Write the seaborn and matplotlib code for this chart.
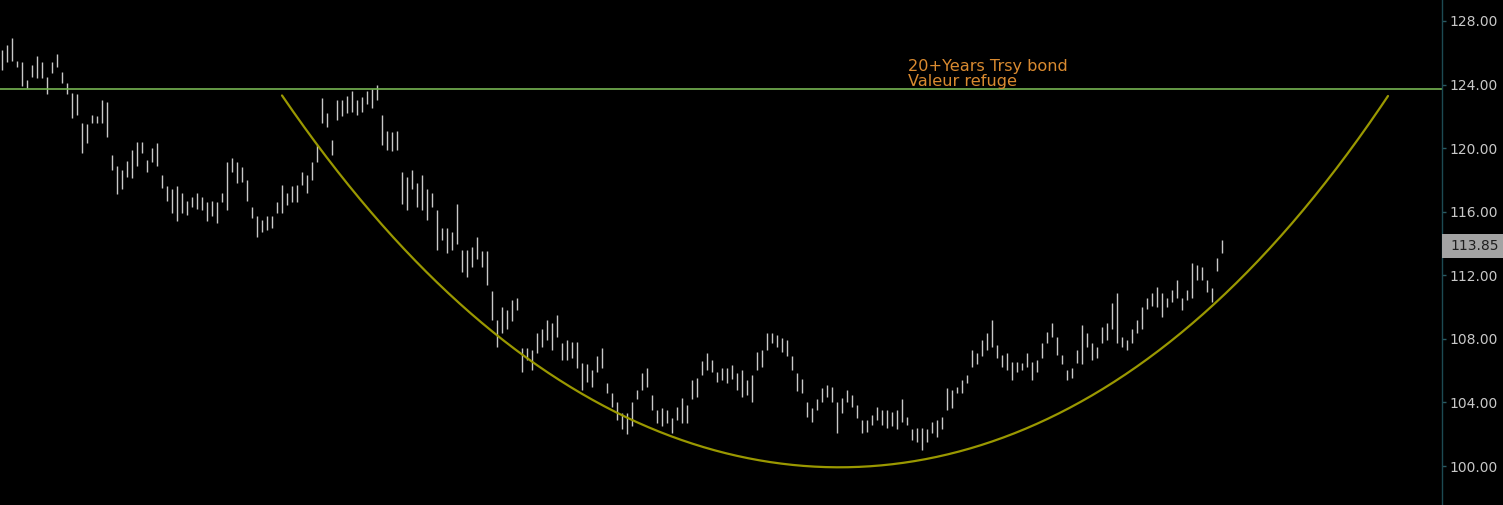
import numpy as np
import pandas as pd
import seaborn as sns
import matplotlib.pyplot as plt
from matplotlib.patches import Rectangle

# daily bars (high / low)
hi = [126.2, 126.5, 126.9, 125.5, 125.4, 124.3, 125.2, 125.8, 125.4, 124.5,
      125.4, 125.9, 124.8, 124.1, 123.5, 123.4, 121.6, 121.5, 122.1, 122.0,
      123.0, 122.9, 119.6, 118.9, 118.6, 119.2, 119.9, 120.4, 120.4, 119.25,
      120.0, 120.3, 118.3, 117.6, 117.4, 117.6, 117.2, 116.7, 116.9, 117.2,
      116.9, 116.6, 116.7, 116.6, 117.2, 119.1, 119.4, 119.1, 118.8, 118.0,
      116.3, 115.7, 115.5, 115.7, 115.7, 116.6, 117.7, 117.2, 117.6, 117.7,
      118.5, 118.3, 119.1, 120.2, 123.15, 122.2, 120.5, 123.0, 123.0, 123.3,
      123.6, 123.0, 123.2, 123.6, 123.7, 124.0, 122.1, 121.1, 121.0, 121.1,
      118.5, 118.2, 118.6, 117.8, 118.3, 117.4, 117.2, 116.1, 115.0, 115.0,
      114.7, 116.5, 113.6, 113.6, 113.8, 114.4, 113.5, 113.5, 111.0, 109.2,
      110.0, 109.8, 110.45, 110.6, 107.4, 107.4, 107.3, 108.4, 108.6, 109.2,
      109.0, 109.5, 107.75, 107.9, 107.8, 107.8, 106.5, 106.4, 106.05, 106.9,
      107.4, 105.2, 104.6, 104.0, 103.35, 103.35, 104.0, 104.8, 105.85, 106.2,
      104.5, 103.5, 103.65, 103.5, 103.0, 103.7, 104.3, 103.85, 105.4, 105.55,
      106.6, 107.1, 106.7, 105.9, 106.2, 106.2, 106.35, 105.85, 106.05, 105.4,
      105.7, 107.2, 107.3, 108.4, 108.4, 108.25, 108.05, 107.9, 106.9, 105.85,
      105.5, 104.0, 103.65, 104.2, 104.9, 105.1, 105.0, 104.0, 104.3, 104.8,
      104.5, 103.85, 102.9, 102.9, 103.2, 103.7, 103.5, 103.5, 103.4, 103.5,
      104.2, 103.1, 102.3, 102.4, 102.4, 102.3, 102.8, 102.9, 103.1, 104.9,
      104.8, 105.0, 105.4, 105.7, 107.3, 107.1, 107.9, 108.4, 109.2, 107.6,
      107.0, 107.1, 106.55, 106.55, 106.5, 107.1, 106.55, 106.7, 107.75, 108.45,
      109.0, 108.1, 107.0, 106.05, 106.2, 107.3, 108.9, 108.4, 107.75, 107.5,
      108.75, 109.0, 110.25, 110.9, 108.1, 107.9, 108.6, 109.2, 110.0, 110.55,
      110.9, 111.25, 110.9, 110.6, 111.1, 111.7, 110.6, 111.1, 112.8, 112.65,
      112.5, 111.7, 111.2, 113.1, 114.2]
lo = [124.9, 125.4, 125.5, 125.1, 123.9, 123.8, 124.5, 124.4, 124.4, 123.4,
      124.7, 125.1, 124.1, 123.4, 121.9, 122.1, 119.7, 120.3, 121.6, 121.6,
      121.6, 120.7, 118.6, 117.1, 117.4, 118.2, 118.1, 118.9, 119.7, 118.5,
      119.1, 118.9, 117.5, 116.7, 115.9, 115.4, 115.9, 115.8, 116.3, 116.2,
      116.1, 115.4, 115.7, 115.3, 116.6, 116.1, 118.5, 117.8, 117.9, 116.7,
      115.6, 114.4, 114.7, 114.85, 115.0, 115.9, 115.9, 116.4, 116.6, 116.6,
      117.7, 117.2, 118.0, 119.1, 121.6, 121.3, 119.6, 121.8, 122.0, 122.2,
      122.3, 122.1, 122.3, 122.8, 122.5, 123.0, 120.2, 119.9, 119.8, 119.9,
      116.5, 116.1, 117.4, 116.3, 116.1, 115.5, 116.3, 113.6, 114.2, 113.4,
      113.6, 114.0, 112.2, 111.9, 112.5, 113.0, 112.5, 111.4, 109.2, 107.5,
      108.4, 108.6, 109.1, 109.8, 105.9, 106.7, 106.05, 107.1, 107.5, 107.9,
      107.3, 108.1, 106.7, 106.7, 106.8, 106.2, 104.8, 105.3, 105.0, 105.9,
      106.2, 104.6, 103.7, 102.9, 102.3, 102.0, 102.5, 104.2, 104.8, 105.0,
      103.5, 102.7, 102.5, 102.7, 102.1, 102.9, 102.7, 102.7, 104.2, 104.35,
      105.7, 106.05, 105.9, 105.3, 105.4, 105.2, 105.5, 104.8, 104.35, 104.5,
      104.0, 106.05, 106.25, 107.3, 107.75, 107.5, 107.2, 106.9, 106.05, 104.7,
      104.6, 103.1, 102.8, 103.5, 104.0, 104.35, 104.0, 102.1, 103.35, 104.0,
      103.7, 103.0, 102.1, 102.15, 102.6, 102.9, 102.6, 102.4, 102.5, 102.3,
      102.8, 102.6, 101.65, 101.5, 101.0, 101.5, 102.1, 101.8, 102.3, 103.5,
      103.65, 104.6, 104.6, 105.2, 106.25, 106.4, 106.9, 107.3, 107.5, 106.8,
      106.25, 106.05, 105.4, 105.9, 106.05, 106.25, 105.4, 105.9, 106.8, 107.75,
      108.1, 107.0, 106.4, 105.4, 105.55, 106.5, 106.4, 107.5, 106.7, 106.8,
      107.75, 107.9, 108.6, 107.75, 107.5, 107.3, 107.75, 108.4, 108.6, 109.9,
      110.1, 110.0, 109.4, 110.0, 110.3, 110.6, 109.8, 110.45, 110.6, 111.7,
      111.7, 110.95, 110.3, 112.3, 113.4]
last_close = 113.85

# horizontal resistance level and the hand-drawn "cup" arc (bar index, price)
level = 123.72
curve_bar = [56, 63, 69.6, 76.2, 79.6, 89.6, 99.6, 109.6, 119.6, 127.6, 134.2,
             141, 151.6, 159.6, 167.2, 173, 179.6, 186.2, 199.6, 213, 226.2,
             233, 243.6, 249.6, 259.6, 269.6, 277.2]
curve_price = [123.34, 120.13, 117.49, 115.16, 114.03, 110.89, 107.93, 105.85,
               104.15, 102.58, 101.76, 101.0, 100.31, 99.94, 99.87, 99.94,
               100.06, 100.69, 102.08, 103.71, 106.04, 107.49, 110.45, 112.14,
               116.11, 119.88, 123.28]
yticks = [100, 104, 108, 112, 116, 120, 124, 128]
note_lines = ["20+Years Trsy bond", "Valeur refuge"]

sns.set_style("dark", rc={"axes.facecolor": "black", "figure.facecolor": "black"})
plt.rcParams['font.family'] = ['DejaVu Sans']

W, H = 1503, 505
fig = plt.figure(figsize=(W / 100, H / 100), dpi=100)
ax = fig.add_axes([0, 0, 1442 / W, 1])

bars = pd.DataFrame({'bar': np.arange(len(hi)), 'hi': hi, 'lo': lo})
ax.vlines(bars['bar'], bars['lo'], bars['hi'], color='#c8c8c8', lw=1.0)

ax.axhline(level, color='#76b552', lw=1.2)

# the arc is drawn as a smooth curve through the read points
coef = np.polyfit(curve_bar, curve_price, 4)
arc_x = np.linspace(curve_bar[0], curve_bar[-1], 300)
arc = pd.DataFrame({'bar': arc_x, 'price': np.polyval(coef, arc_x)})
sns.lineplot(data=arc, x='bar', y='price', color='#9a9800', lw=1.6,
             sort=False, ax=ax)

ax.text(181.2, 124.85, note_lines[0], color='#d98a30', fontsize=11.6, va='baseline')
ax.text(181.2, 123.93, note_lines[1], color='#d98a30', fontsize=11.6, va='baseline')

ax.set_xlim(-0.4, 288.0)
ax.set_ylim(97.55, 129.32)
ax.yaxis.tick_right()
ax.set_yticks(yticks)
ax.set_yticklabels([f'{v:.2f}' for v in yticks])
ax.tick_params(axis='y', colors='#2a5a62', labelcolor='#c8c8c8', labelsize=10,
               length=3, width=1, pad=2.5, right=True, left=False)
ax.tick_params(axis='x', bottom=False, labelbottom=False)
ax.set_xlabel('')
ax.set_ylabel('')
ax.grid(False)
for s in ['left', 'top', 'bottom']:
    ax.spines[s].set_visible(False)
ax.spines['right'].set_color('#1c4a52')
ax.spines['right'].set_linewidth(1.0)

# last price marker on the scale
y_px = 21 + (128 - last_close) * (445 / 28)
fig.patches.append(Rectangle((1442 / W, (H - y_px - 12) / H), 1 - 1442 / W, 24 / H,
                             transform=fig.transFigure, facecolor='#a3a3a3',
                             edgecolor='none', zorder=5))
fig.text(1450 / W, (H - y_px) / H, f'{last_close:.2f}', color='#1e1e1e',
         fontsize=10, va='center', ha='left', zorder=6)

fig.savefig('out.png', dpi=100, facecolor='black')
